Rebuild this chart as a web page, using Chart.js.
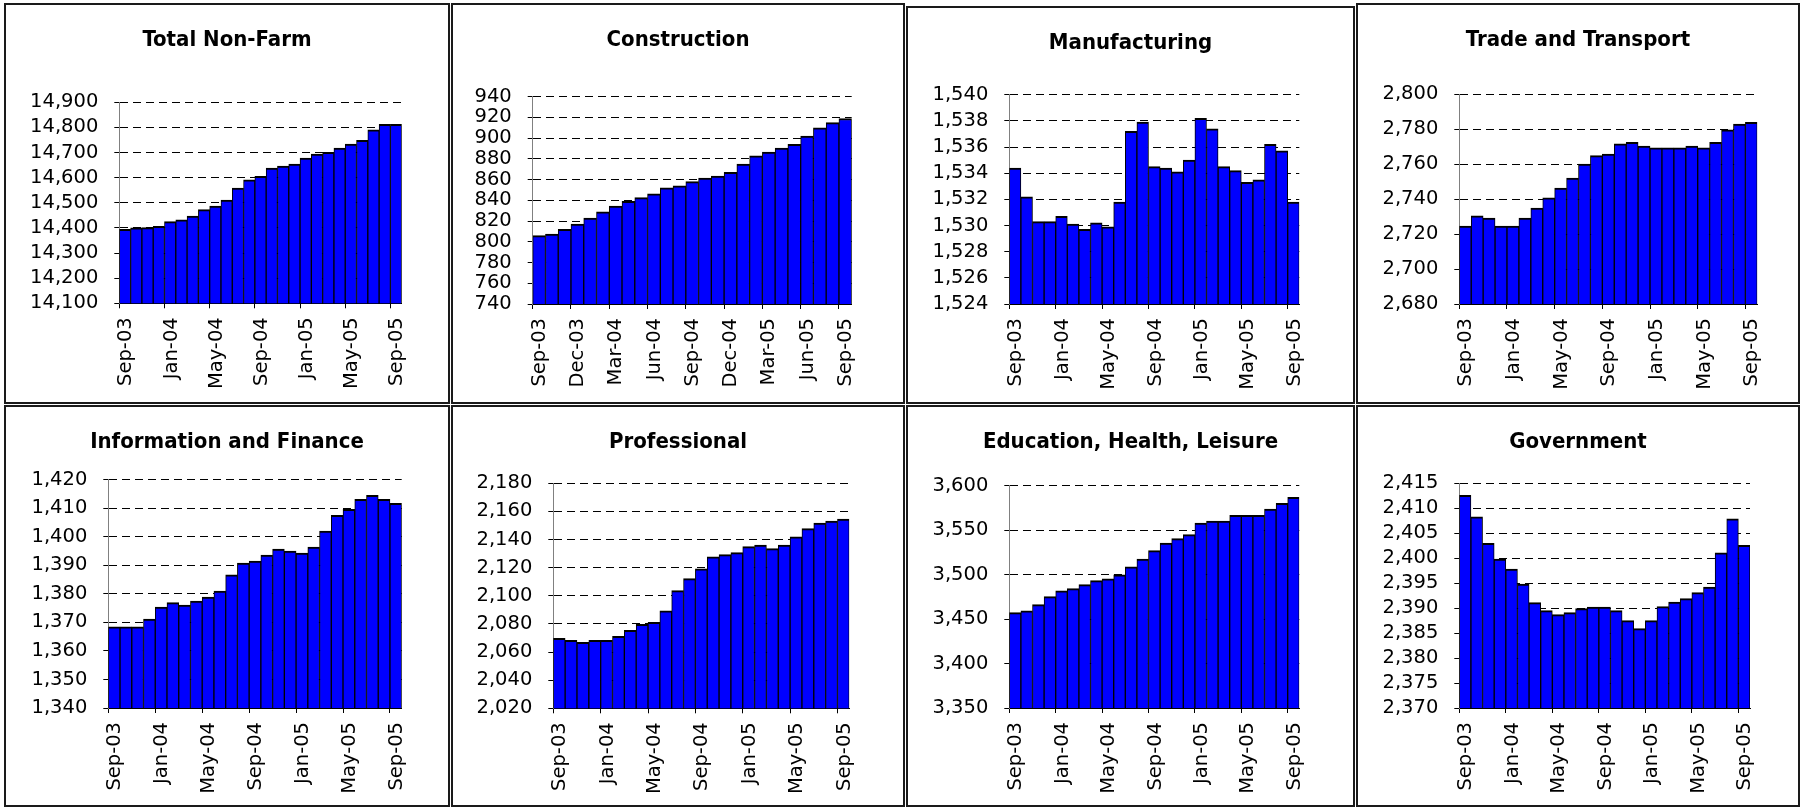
<!DOCTYPE html>
<html><head><meta charset="utf-8">
<script src="https://cdn.jsdelivr.net/npm/chart.js@4.4.1/dist/chart.umd.min.js"></script>
<style>
html,body{margin:0;padding:0;background:#fff;width:1805px;height:808px;overflow:hidden}
.panel{position:absolute;box-sizing:border-box;border:2px solid #1a1a1a;background:#fff}
.panel canvas{position:absolute;left:0;top:0}
</style></head><body>
<script>
// ---- data ----
const months = ['Sep-03','Oct-03','Nov-03','Dec-03','Jan-04','Feb-04','Mar-04','Apr-04','May-04','Jun-04','Jul-04','Aug-04',
  'Sep-04','Oct-04','Nov-04','Dec-04','Jan-05','Feb-05','Mar-05','Apr-05','May-05','Jun-05','Jul-05','Aug-05','Sep-05'];

const titles = ['Total Non-Farm','Construction','Manufacturing','Trade and Transport',
  'Information and Finance','Professional','Education, Health, Leisure','Government'];

const totalNonFarm = [14394,14400,14401,14406,14425,14432,14447,14473,14487,14511,14559,14591,
  14605,14638,14646,14654,14678,14694,14701,14718,14734,14749,14790,14812,14812];
const construction = [806,807.5,812,817,823,829,834.5,839,842.6,846.4,852,854,
  858,861.5,863.5,867,875,883,886.6,890.5,894,902,910,915,919];
const manufacturing = [1534.4,1532.2,1530.3,1530.3,1530.7,1530.1,1529.7,1530.2,1529.9,1531.8,1537.2,1537.9,
  1534.5,1534.4,1534.1,1535.0,1538.2,1537.4,1534.5,1534.2,1533.3,1533.5,1536.2,1535.7,1531.8];
const tradeTransport = [2724.6,2730.4,2729.2,2724.6,2724.6,2729.2,2734.9,2740.7,2746.4,2752.1,2760.1,2764.9,
  2765.8,2771.6,2772.5,2770.4,2769.3,2769.3,2769.3,2770.4,2769.3,2772.5,2779.6,2783,2784];
const infoFinance = [1368.4,1368.4,1368.4,1371.2,1375.4,1376.9,1376.1,1377.5,1378.9,1381,1386.7,1390.8,
  1391.5,1393.6,1395.7,1395,1394.3,1396.4,1402,1407.5,1409.6,1413.1,1414.5,1413.1,1411.7];
const professional = [2069.8,2068.4,2066.9,2068.4,2068.4,2071.2,2075.5,2079.7,2081.2,2089.4,2103.7,2112.2,
  2119.1,2127.8,2129.3,2130.7,2135,2136.1,2133.5,2136.1,2142,2147.8,2151.8,2153.2,2154.6];
const eduHealthLeisure = [3457.2,3459.4,3466.2,3475.2,3481.9,3484.2,3488.7,3493.2,3495.4,3499.9,3508.9,3517.5,
  3526.9,3535.5,3540.4,3544.9,3558,3560.3,3560.3,3566.6,3566.6,3566.6,3573.8,3580.1,3586.9];
const government = [2412.6,2408.3,2403,2399.8,2397.8,2394.8,2391.1,2389.5,2388.7,2389.1,2389.9,2390.2,
  2390.2,2389.5,2387.5,2385.9,2387.5,2390.3,2391.2,2391.9,2393.1,2394.2,2401.1,2407.9,2402.6];

const seriesList = [totalNonFarm, construction, manufacturing, tradeTransport,
  infoFinance, professional, eduHealthLeisure, government];

// y axis ranges
const yMins  = [14100, 740, 1524, 2680, 1340, 2020, 3350, 2370];
const yMaxs  = [14900, 940, 1540, 2800, 1420, 2180, 3600, 2415];
const ySteps = [100, 20, 2, 20, 10, 20, 50, 5];
// month interval between labelled x ticks
const xLabelEvery = [4, 3, 4, 4, 4, 4, 4, 4];

// ---- layout (page pixels) ----
const layoutBoxes = [
  {box:[4,3,450,404],     plot:[119.3,102.3,401.7,303.3], titleY:40},
  {box:[451,3,905,404],   plot:[532.7,96.7,851.7,304],    titleY:40},
  {box:[906,6,1355,404],  plot:[1009.3,94.7,1299.3,304],  titleY:43.5},
  {box:[1356,3,1800,404], plot:[1459.3,94.3,1757.3,304],  titleY:40},
  {box:[4,405,450,807],   plot:[108.3,479.7,401.7,708],   titleY:442.5},
  {box:[451,405,905,807], plot:[553.3,483.3,849.3,708.3], titleY:442.5},
  {box:[906,405,1355,807],plot:[1009.3,485.7,1299.3,708], titleY:442.5},
  {box:[1356,405,1800,807],plot:[1459.3,483.3,1750,708],  titleY:442.5}
];

const FONT = "'DejaVu Sans', sans-serif";
const TITLE_FONT = "'DejaVu Sans Condensed', 'DejaVu Sans', sans-serif";
const fmt = v => Number(v).toLocaleString('en-US');

function makePanel(i) {
  const L = layoutBoxes[i];
  const [bl, bt, br, bb] = L.box;
  const div = document.createElement('div');
  div.className = 'panel';
  Object.assign(div.style, {left: bl + 'px', top: bt + 'px', width: (br - bl) + 'px', height: (bb - bt) + 'px'});
  document.body.appendChild(div);
  const cl = bl + 2, ct = bt + 2, cw = br - bl - 4, ch = bb - bt - 4;
  const canvas = document.createElement('canvas');
  canvas.width = cw; canvas.height = ch;
  canvas.style.width = cw + 'px'; canvas.style.height = ch + 'px';
  div.appendChild(canvas);

  const [pl, pt, pr, pb] = L.plot;
  const tSize = 22, tLH = 1.2, th = tSize * tLH;
  const tCenter = L.titleY - ct;
  const padTop = tCenter - th / 2;
  const padBottom = (pt - ct) - (tCenter + th / 2);
  const rightW = (cl + cw) - pr;
  const yWidth = pl - cl;
  const xHeight = (ct + ch) - pb;
  const every = xLabelEvery[i];
  const n = months.length;

  new Chart(canvas, {
    type: 'bar',
    data: {
      labels: months,
      datasets: [{
        data: seriesList[i],
        backgroundColor: '#0000ff',
        borderColor: '#000000',
        borderWidth: {top: 2, left: 1, right: 1, bottom: 0},
        borderSkipped: false,
        categoryPercentage: 1,
        barPercentage: 1,
        xAxisID: 'x',
        yAxisID: 'y'
      }]
    },
    options: {
      responsive: false,
      animation: false,
      devicePixelRatio: 1,
      layout: {padding: 0},
      plugins: {
        legend: {display: false},
        tooltip: {enabled: false},
        title: {
          display: true, text: titles[i], color: '#000',
          font: {family: TITLE_FONT, size: tSize, weight: 'bold', lineHeight: tLH},
          padding: {top: padTop, bottom: padBottom}
        }
      },
      scales: {
        x: {type: 'category', display: false, offset: true},
        xl: {
          type: 'linear', axis: 'x', position: 'bottom',
          min: 0, max: n, offset: false,
          afterFit: s => { s.height = xHeight; },
          ticks: {
            stepSize: 1, autoSkip: false, includeBounds: false,
            maxRotation: 90, minRotation: 90, padding: 9, labelOffset: 7, color: '#000',
            font: {family: FONT, size: 19.5},
            callback: v => (v % every === 0 && v < n) ? months[v] : ''
          },
          grid: {
            display: true, offset: false, drawOnChartArea: false, drawTicks: true, tickLength: 5,
            tickColor: c => (c.tick && c.tick.value % every === 0 && c.tick.value < n) ? '#000' : 'rgba(0,0,0,0)'
          },
          border: {display: true, color: '#000', width: 1}
        },
        y: {
          type: 'linear', position: 'left',
          min: yMins[i], max: yMaxs[i],
          afterFit: s => { s.width = yWidth; },
          ticks: {
            stepSize: ySteps[i], autoSkip: false, padding: 16, color: '#000',
            font: {family: FONT, size: 19.5},
            callback: v => fmt(v)
          },
          grid: {
            display: true, color: '#000', lineWidth: 1, drawTicks: true, tickLength: 5, tickColor: '#000'
          },
          border: {display: true, color: '#808080', width: 1, dash: [8, 5]}
        },
        yr: {
          type: 'linear', axis: 'y', position: 'right', min: 0, max: 1,
          afterFit: s => { s.width = rightW; },
          ticks: {display: false}, grid: {display: false}, border: {display: false}
        }
      }
    }
  });
}

for (let i = 0; i < 8; i++) makePanel(i);
</script>
</body></html>
